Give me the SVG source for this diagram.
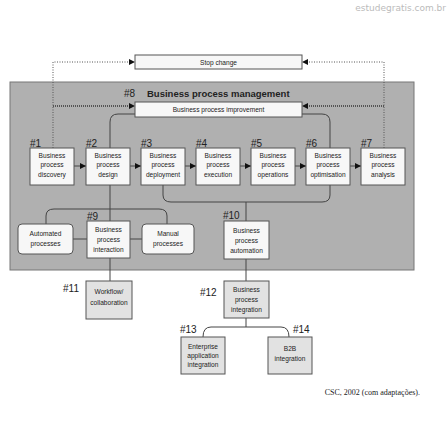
<svg xmlns="http://www.w3.org/2000/svg" width="447" height="446" viewBox="0 0 447 446">
<style>
.bx{fill:#f7f7f7;stroke:#555;stroke-width:1}
.gb{fill:#e2e2e2;stroke:#555;stroke-width:1}
.t{font-family:"Liberation Sans",Arial,sans-serif;font-size:6.6px;fill:#222;text-anchor:middle}
.n{font-family:"Liberation Sans",Arial,sans-serif;font-size:10px;fill:#222}
.ln{fill:none;stroke:#444;stroke-width:1}
.dot{fill:none;stroke:#555;stroke-width:1;stroke-dasharray:1 1.5}
.dotb{fill:none;stroke:#555;stroke-width:2;stroke-dasharray:1 1}
</style>
<defs>
<marker id="ah" viewBox="0 0 6 6" refX="6" refY="3" markerWidth="6" markerHeight="6" orient="auto" markerUnits="userSpaceOnUse">
<path d="M0,0L6,3L0,6z" fill="#111"/>
</marker>
</defs>
<rect width="447" height="446" fill="#fff"/>
<text x="446" y="11" font-family="'DejaVu Sans',sans-serif" font-size="9" fill="#bbb" text-anchor="end">estudegratis.com.br</text>

<g id="panel">
<rect x="10" y="82" width="404" height="188" fill="#b0b0b0" stroke="#777" stroke-width="1"/>
<text x="124" y="96.5" class="n">#8</text>
<text x="147" y="96.5" font-family="'Liberation Sans',Arial,sans-serif" font-size="9.5" font-weight="bold" fill="#222">Business process management</text>
</g>

<g id="connectors">
<path class="dot" d="M53,148V62H129"/>
<path class="dot" d="M384,148V62H308"/>
<path d="M129,59L135,62L129,65z" fill="#111"/>
<path d="M308,59L302,62L308,65z" fill="#111"/>
<path class="dotb" d="M53,106H129"/>
<path class="dotb" d="M384,106H308"/>
<path d="M129,103L135,106L129,109z" fill="#111"/>
<path d="M308,103L302,106L308,109z" fill="#111"/>
<path class="ln" d="M135,114H118Q110,114 110,122V148"/>
<path class="ln" d="M302,114H322Q330,114 330,122V148"/>
<path class="ln" d="M74,166H86" marker-end="url(#ah)"/>
<path class="ln" d="M130,166H141" marker-end="url(#ah)"/>
<path class="ln" d="M185,166H196" marker-end="url(#ah)"/>
<path class="ln" d="M240,166H251" marker-end="url(#ah)"/>
<path class="ln" d="M295,166H306" marker-end="url(#ah)"/>
<path class="ln" d="M350,166H361" marker-end="url(#ah)"/>
<path class="ln" d="M163,185V195Q163,202 171,202H322Q330,202 330,195V185"/>
<path class="ln" d="M246,202V221"/>
<path class="ln" d="M110,185V221"/>
<path class="ln" d="M46,224V216Q46,209 54,209H159Q167,209 167,216V224"/>
<path class="ln" d="M73,239H87M130,239H142"/>
<path class="ln" d="M110,258V281"/>
<path class="ln" d="M246,259V281"/>
<path class="ln" d="M246,318V327"/>
<path class="ln" d="M203,337Q203,327 211,327H281Q289,327 289,337"/>
</g>

<g id="stop-change">
<rect class="bx" x="135" y="55" width="167" height="14"/>
<text class="t" x="218.5" y="64.5">Stop change</text>
</g>
<g id="bpi">
<rect class="bx" x="135" y="102" width="167" height="15"/>
<text class="t" x="218.5" y="112">Business process improvement</text>
</g>

<g id="n1"><text class="n" x="30" y="147">#1</text><rect class="bx" x="30" y="148" width="44" height="37"/>
<text class="t" x="52" y="157.5">Business</text><text class="t" x="52" y="167">process</text><text class="t" x="52" y="176.5">discovery</text></g>
<g id="n2"><text class="n" x="86" y="147">#2</text><rect class="bx" x="86" y="148" width="44" height="37"/>
<text class="t" x="108" y="157.5">Business</text><text class="t" x="108" y="167">process</text><text class="t" x="108" y="176.5">design</text></g>
<g id="n3"><text class="n" x="141" y="147">#3</text><rect class="bx" x="141" y="148" width="44" height="37"/>
<text class="t" x="163" y="157.5">Business</text><text class="t" x="163" y="167">process</text><text class="t" x="163" y="176.5">deployment</text></g>
<g id="n4"><text class="n" x="196" y="147">#4</text><rect class="bx" x="196" y="148" width="44" height="37"/>
<text class="t" x="218" y="157.5">Business</text><text class="t" x="218" y="167">process</text><text class="t" x="218" y="176.5">execution</text></g>
<g id="n5"><text class="n" x="251" y="147">#5</text><rect class="bx" x="251" y="148" width="44" height="37"/>
<text class="t" x="273" y="157.5">Business</text><text class="t" x="273" y="167">process</text><text class="t" x="273" y="176.5">operations</text></g>
<g id="n6"><text class="n" x="306" y="147">#6</text><rect class="bx" x="306" y="148" width="44" height="37"/>
<text class="t" x="328" y="157.5">Business</text><text class="t" x="328" y="167">process</text><text class="t" x="328" y="176.5">optimisation</text></g>
<g id="n7"><text class="n" x="361" y="147">#7</text><rect class="bx" x="361" y="148" width="44" height="37"/>
<text class="t" x="383" y="157.5">Business</text><text class="t" x="383" y="167">process</text><text class="t" x="383" y="176.5">analysis</text></g>

<g id="automated"><rect class="bx" x="18" y="224" width="55" height="30" rx="4"/>
<text class="t" x="45.5" y="236">Automated</text><text class="t" x="45.5" y="245.5">processes</text></g>
<g id="n9"><text class="n" x="87" y="220">#9</text><rect class="bx" x="87" y="221" width="43" height="37"/>
<text class="t" x="108.5" y="231.5">Business</text><text class="t" x="108.5" y="241.5">process</text><text class="t" x="108.5" y="251.5">interaction</text></g>
<g id="manual"><rect class="bx" x="142" y="224" width="52" height="30" rx="4"/>
<text class="t" x="168" y="236">Manual</text><text class="t" x="168" y="245.5">processes</text></g>
<g id="n10"><text class="n" x="223" y="219">#10</text><rect class="bx" x="224" y="221" width="45" height="38"/>
<text class="t" x="246.5" y="233">Business</text><text class="t" x="246.5" y="243">process</text><text class="t" x="246.5" y="252.5">automation</text></g>

<g id="n11"><text class="n" x="63" y="292">#11</text><rect class="gb" x="86" y="281" width="46" height="38"/>
<text class="t" x="109" y="294">Workflow/</text><text class="t" x="109" y="304.5">collaboration</text></g>
<g id="n12"><text class="n" x="200" y="296">#12</text><rect class="gb" x="224" y="281" width="45" height="37"/>
<text class="t" x="246.5" y="292">Business</text><text class="t" x="246.5" y="302">process</text><text class="t" x="246.5" y="311.5">integration</text></g>
<g id="n13"><text class="n" x="180" y="333">#13</text><rect class="gb" x="181" y="337" width="44" height="37"/>
<text class="t" x="203" y="349">Enterprise</text><text class="t" x="203" y="357.5">application</text><text class="t" x="203" y="367">integration</text></g>
<g id="n14"><text class="n" x="293" y="333">#14</text><rect class="gb" x="268" y="337" width="44" height="37"/>
<text class="t" x="290" y="351">B2B</text><text class="t" x="290" y="361">integration</text></g>

<text x="420" y="395" font-family="'Liberation Serif','Times New Roman',serif" font-size="8" fill="#222" text-anchor="end">CSC, 2002 (com adaptações).</text>
</svg>
